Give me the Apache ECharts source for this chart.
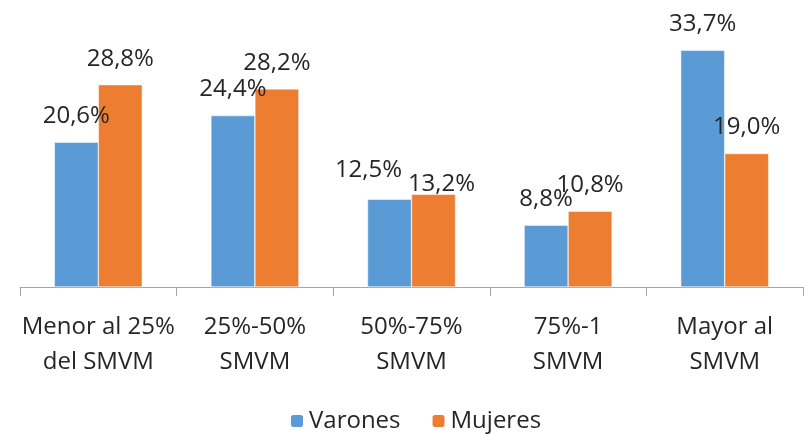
<!DOCTYPE html>
<html>
<head>
<meta charset="utf-8">
<script src="https://cdn.jsdelivr.net/npm/echarts@6/dist/echarts.min.js"></script>
<style>
  html, body { margin: 0; padding: 0; background: #fff; }
  #chart { width: 804px; height: 434px; }
</style>
</head>
<body>
<div id="chart"></div>
<script>
// Datos del gráfico
const categories = ['Menor al 25%\ndel SMVM', '25%-50%\nSMVM', '50%-75%\nSMVM', '75%-1\nSMVM', 'Mayor al\nSMVM'];
const varones = [20.6, 24.4, 12.5, 8.8, 33.7];
const mujeres = [28.8, 28.2, 13.2, 10.8, 19.0];

// Etiquetas movidas a mano en el original
const varonesLabelShift = [null, null, [-21, -3], null, null];
const mujeresLabelShift = [null, null, [8, 16], null, null];

const FONT = '"Open Sans", "Noto Sans", sans-serif';
const TEXT = '#262626';

const fmt = p => p.value.toFixed(1).replace('.', ',') + '%';

const withShift = (values, shifts) => values.map((v, i) =>
  shifts[i] ? { value: v, label: { offset: shifts[i] } } : v
);

const valueLabel = {
  show: true,
  position: 'top',
  distance: 14,
  fontSize: 24,
  color: TEXT,
  fontFamily: FONT,
  formatter: fmt
};

const chart = echarts.init(document.getElementById('chart'));

chart.setOption({
  animation: false,
  textStyle: { fontFamily: FONT },
  grid: { left: 20, right: 1, top: 6, bottom: 147 },
  legend: {
    top: 404,
    left: 284,
    itemWidth: 14,
    itemHeight: 14,
    itemGap: 30,
    textStyle: { fontSize: 24, color: TEXT, fontFamily: FONT },
    data: ['Varones', 'Mujeres']
  },
  xAxis: {
    type: 'category',
    data: categories,
    axisLine: { lineStyle: { color: '#a6a6a6', width: 1 } },
    axisTick: { show: true, length: 9, lineStyle: { color: '#a6a6a6' } },
    axisLabel: {
      interval: 0,
      fontSize: 24,
      lineHeight: 35,
      color: TEXT,
      margin: 23,
      fontFamily: FONT
    }
  },
  yAxis: {
    type: 'value',
    min: 0,
    max: 40,
    show: false,
    splitLine: { show: false }
  },
  series: [
    {
      name: 'Varones',
      type: 'bar',
      data: withShift(varones, varonesLabelShift),
      barWidth: 44,
      barGap: '0%',
      itemStyle: { color: '#5b9bd5', borderColor: '#ffffff', borderWidth: 0.5 },
      label: valueLabel
    },
    {
      name: 'Mujeres',
      type: 'bar',
      data: withShift(mujeres, mujeresLabelShift),
      barWidth: 44,
      itemStyle: { color: '#ed7d31', borderColor: '#ffffff', borderWidth: 0.5 },
      label: valueLabel
    }
  ]
});
</script>
</body>
</html>
